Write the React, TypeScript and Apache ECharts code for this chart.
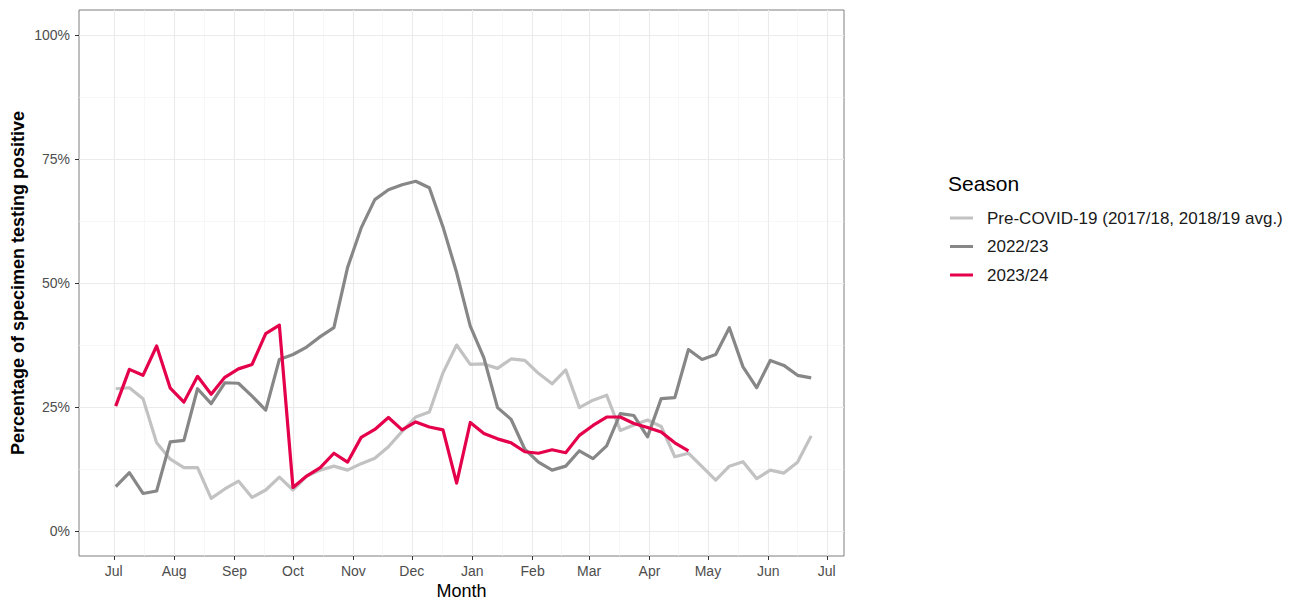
import React, { useEffect, useRef } from "react";
import * as echarts from "echarts";

// Month ticks: days counted from 1 Jul 2023
const monthLabels = ["Jul", "Aug", "Sep", "Oct", "Nov", "Dec", "Jan", "Feb", "Mar", "Apr", "May", "Jun", "Jul"];
const monthDays = [0, 31, 62, 92, 123, 153, 184, 215, 244, 275, 305, 336, 366];
const yTicks = [0, 25, 50, 75, 100];
const yMinor = [12.5, 37.5, 62.5, 87.5];

// Weekly observations: first week = 2 Jul (day 1), one point every 7 days
const firstWeekDay = 1;

const preCovid = [
  28.7, 28.9, 26.7, 17.8, 14.5, 12.8, 12.8, 6.6, 8.5, 10.1,
  6.8, 8.3, 10.9, 8.3, 11.1, 12.3, 13.1, 12.3, 13.6, 14.7,
  17.0, 20.1, 23.0, 24.0, 31.9, 37.5, 33.6, 33.7, 32.8, 34.7,
  34.4, 31.8, 29.7, 32.5, 24.9, 26.4, 27.4, 20.3, 21.4, 22.4,
  21.1, 15.0, 15.7, 13.0, 10.3, 13.1, 14.0, 10.6, 12.3, 11.7,
  13.9, 19.2,
];

const season2223 = [
  9.0, 11.8, 7.6, 8.1, 18.0, 18.3, 28.7, 25.7, 29.9, 29.8,
  27.2, 24.4, 34.6, 35.6, 37.1, 39.2, 41.0, 53.1, 61.1, 66.8,
  68.8, 69.8, 70.5, 69.2, 61.3, 52.1, 41.3, 34.9, 24.9, 22.5,
  16.5, 13.9, 12.3, 13.1, 16.2, 14.6, 17.2, 23.7, 23.3, 19.0,
  26.7, 26.9, 36.6, 34.6, 35.6, 41.0, 33.1, 28.9, 34.4, 33.4,
  31.4, 30.9,
];

const season2324 = [
  25.2, 32.6, 31.4, 37.3, 28.8, 26.0, 31.2, 27.6, 31.0, 32.7,
  33.6, 39.8, 41.5, 8.8, 11.1, 12.8, 15.7, 13.9, 18.9, 20.5,
  22.9, 20.4, 22.0, 21.0, 20.4, 9.7, 21.9, 19.7, 18.6, 17.8,
  16.0, 15.7, 16.4, 15.8, 19.3, 21.3, 23.0, 23.0, 21.7, 20.9,
  20.0, 17.8, 16.2,
];

const seriesNames = ["Pre-COVID-19 (2017/18, 2018/19 avg.)", "2022/23", "2023/24"];
const seriesColors = ["#c2c2c2", "#878787", "#e5004b"];

const FONT = "'Liberation Sans', Arial, Helvetica, sans-serif";

const toPoints = (vals: number[]) => vals.map((v, i) => [firstWeekDay + 7 * i, v]);

export default function App() {
  const ref = useRef<HTMLDivElement>(null);

  useEffect(() => {
    if (!ref.current) return;
    const chart = echarts.init(ref.current, null, { renderer: "svg" });

    const minorDays: number[] = [];
    for (let i = 0; i < monthDays.length - 1; i++) minorDays.push((monthDays[i] + monthDays[i + 1]) / 2);

    const gridLines: any[] = [];
    minorDays.forEach((d) => gridLines.push({ xAxis: d, lineStyle: { color: "#f2f2f2", width: 0.6, type: "solid" } }));
    yMinor.forEach((v) => gridLines.push({ yAxis: v, lineStyle: { color: "#f2f2f2", width: 0.6, type: "solid" } }));
    monthDays.forEach((d) => gridLines.push({ xAxis: d, lineStyle: { color: "#ebebeb", width: 1.1, type: "solid" } }));
    yTicks.forEach((v) => gridLines.push({ yAxis: v, lineStyle: { color: "#ebebeb", width: 1.1, type: "solid" } }));

    const datas = [preCovid, season2223, season2324];

    chart.setOption({
      animation: false,
      textStyle: { fontFamily: FONT },
      grid: {
        left: 79,
        top: 10,
        width: 765,
        height: 546,
        show: true,
        borderColor: "#7f7f7f",
        borderWidth: 1,
        backgroundColor: "transparent",
        containLabel: false,
      },
      xAxis: {
        type: "value",
        min: -17.85,
        max: 374.85,
        axisLine: { show: false, onZero: false },
        splitLine: { show: false },
        axisTick: { show: true, customValues: monthDays, length: 4, lineStyle: { color: "#333333", width: 1 } },
        axisLabel: {
          customValues: monthDays,
          margin: 8,
          fontSize: 14,
          color: "#4d4d4d",
          fontFamily: FONT,
          formatter: (v: number) => {
            const idx = monthDays.indexOf(Math.round(v));
            return idx >= 0 ? monthLabels[idx] : "";
          },
        },
      },
      yAxis: {
        type: "value",
        min: -5,
        max: 105,
        axisLine: { show: false, onZero: false },
        splitLine: { show: false },
        axisTick: { show: true, customValues: yTicks, length: 4, lineStyle: { color: "#333333", width: 1 } },
        axisLabel: {
          customValues: yTicks,
          margin: 9,
          fontSize: 14,
          color: "#4d4d4d",
          fontFamily: FONT,
          formatter: (v: number) => `${v}%`,
        },
      },
      legend: {
        orient: "vertical",
        left: 950,
        top: 208,
        padding: 0,
        icon: "rect",
        itemWidth: 23,
        itemHeight: 3,
        itemGap: 8.5,
        data: seriesNames,
        textStyle: { fontSize: 17, color: "#1a1a1a", fontFamily: FONT, lineHeight: 20, padding: [0, 0, 0, 9] },
        selectedMode: false,
      },
      graphic: [
        {
          type: "text",
          left: 948,
          top: 173,
          style: { text: "Season", fontSize: 21, fill: "#000", fontFamily: FONT },
        },
        {
          type: "text",
          x: 461.5,
          y: 591,
          style: { text: "Month", fontSize: 18, fill: "#000", fontFamily: FONT, align: "center", verticalAlign: "middle" },
        },
        {
          type: "text",
          x: 18,
          y: 283,
          rotation: Math.PI / 2,
          style: {
            text: "Percentage of specimen testing positive",
            fontSize: 18,
            fontWeight: "bold",
            fill: "#000",
            fontFamily: FONT,
            align: "center",
            verticalAlign: "middle",
          },
        },
      ],
      series: datas.map((vals, k) => ({
        name: seriesNames[k],
        type: "line",
        data: toPoints(vals),
        showSymbol: false,
        symbol: "none",
        color: seriesColors[k],
        lineStyle: { color: seriesColors[k], width: 3.2, join: "round" },
        z: 2 + k,
        emphasis: { disabled: true },
        ...(k === 0
          ? {
              markLine: {
                silent: true,
                z: 0,
                symbol: ["none", "none"],
                label: { show: false },
                emphasis: { disabled: true },
                data: gridLines,
              },
            }
          : {}),
      })),
    });

    return () => chart.dispose();
  }, []);

  return (
    <div
      ref={ref}
      style={{ position: "absolute", left: 0, top: 0, width: 1305, height: 601, background: "#fff" }}
    />
  );
}
